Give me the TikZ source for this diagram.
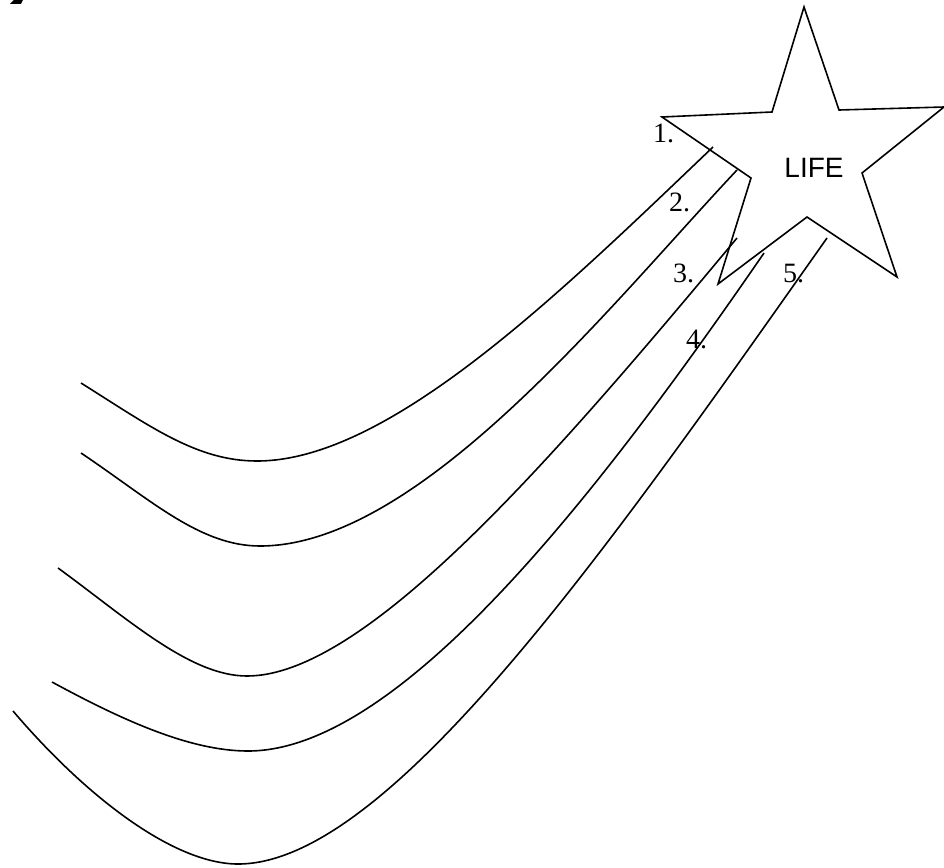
\documentclass[tikz,border=0pt]{standalone}
\usepackage{fontspec}
\setmainfont{Liberation Serif}
\newfontfamily\lifesans{Liberation Sans}
\begin{document}
\begin{tikzpicture}[x=1pt,y=-1pt,
  tailline/.style={line width=1.6pt,line join=round},
  starline/.style={line width=1.6pt,line join=miter},
  numlabel/.style={anchor=base west,inner sep=0pt,font=\fontsize{28}{28}\selectfont},
  lifelabel/.style={anchor=base,inner sep=0pt,font=\lifesans\fontsize{28}{28}\selectfont}]
\useasboundingbox (0,0) rectangle (944,867);
\fill (10,4) -- (14,0) -- (23,0) -- (21,4) -- cycle;
% star
\draw[starline] (804,7) -- (839,110) -- (944,107) -- (862,173) -- (897,277) -- (807,217)
  -- (718,284) -- (751,178) -- (662,117) -- (772,112) -- cycle;
% tails
\coordinate (s1) at (81,383);  \coordinate (m1) at (257,461); \coordinate (e1) at (713,147);
\coordinate (s2) at (81,453);  \coordinate (m2) at (260,546); \coordinate (e2) at (737,170);
\coordinate (s3) at (58,568);  \coordinate (m3) at (247,676); \coordinate (e3) at (737,238);
\coordinate (s4) at (52,682);  \coordinate (m4) at (248,751); \coordinate (e4) at (764,253);
\coordinate (s5) at (13,711);  \coordinate (m5) at (238,864); \coordinate (e5) at (827,238);
\draw[tailline] (s1) .. controls (151,427) and (197,461) .. (m1)
                     .. controls (390,461) and (563,290) .. (e1);
\draw[tailline] (s2) .. controls (151,500) and (200,546) .. (m2)
                     .. controls (420,546) and (610,305) .. (e2);
\draw[tailline] (s3) .. controls (128,619) and (190,676) .. (m3)
                     .. controls (367,676) and (557,454) .. (e3);
\draw[tailline] (s4) .. controls (122,720) and (190,751) .. (m4)
                     .. controls (398,751) and (594,500) .. (e4);
\draw[tailline] (s5) .. controls (88,799) and (175,864) .. (m5)
                     .. controls (388,864) and (607,550) .. (e5);
% labels
\node[lifelabel] (life) at (814,177) {LIFE};
\node[numlabel] (n1) at (653,142) {1.};
\node[numlabel] (n2) at (669,211) {2.};
\node[numlabel] (n3) at (673,282) {3.};
\node[numlabel] (n4) at (686,348) {4.};
\node[numlabel] (n5) at (783,282) {5.};
\end{tikzpicture}
\end{document}
